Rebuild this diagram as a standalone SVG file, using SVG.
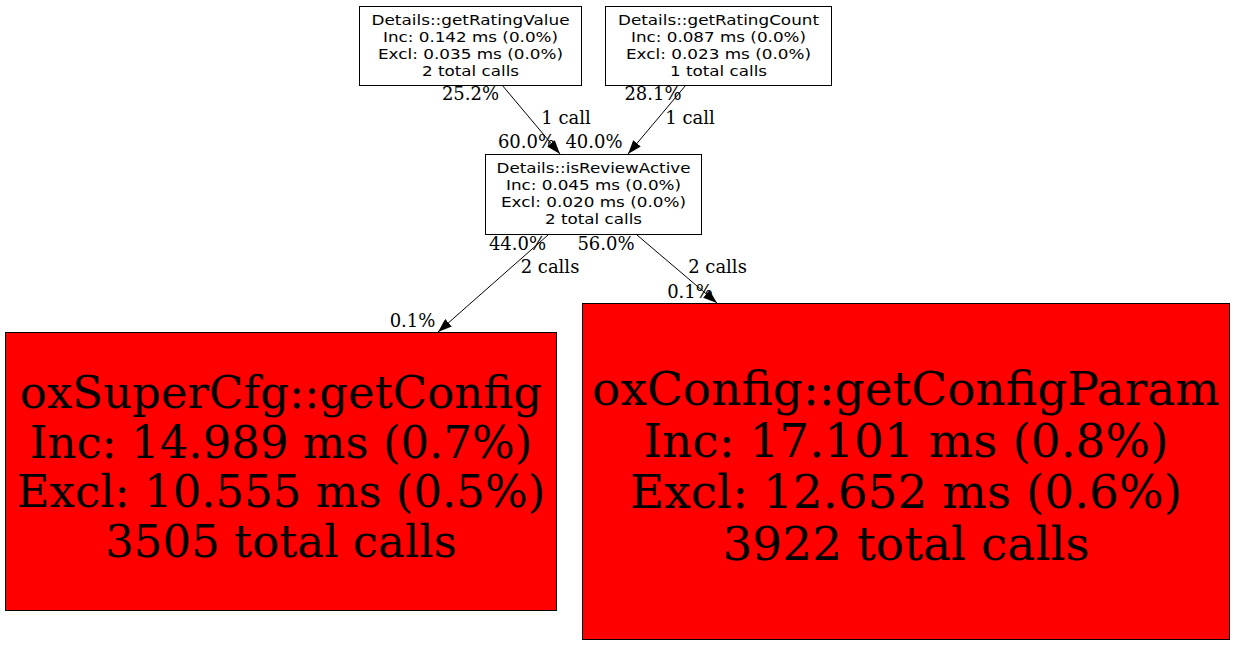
<svg xmlns="http://www.w3.org/2000/svg" width="1236" height="645" viewBox="0 0 1236 645">
<defs>
<style>
.bg{fill:#ffffff}
.box{fill:#ffffff;stroke:#000000;stroke-width:1}
.hot{fill:#ff0000;stroke:#000000;stroke-width:1}
.st{font-family:"DejaVu Sans",sans-serif;font-size:14.5px;fill:#000000;text-anchor:middle}
.bt{font-family:"DejaVu Serif",serif;font-size:45px;fill:#000000;text-anchor:middle}
.bt2{font-family:"DejaVu Serif",serif;font-size:47px;fill:#000000;text-anchor:middle}
.el{font-family:"DejaVu Serif",serif;font-size:18px;fill:#000000;text-anchor:middle}
.edge{stroke:#000000;stroke-width:1;fill:none}
</style>
<marker id="arrow" viewBox="0 0 10 7" refX="10" refY="3.5" markerWidth="14" markerHeight="10" markerUnits="userSpaceOnUse" orient="auto">
<path d="M0,0 L10,3.5 L0,7 z" fill="#000000"/>
</marker>
</defs>
<rect class="bg" x="0" y="0" width="1236" height="645"/>
<g id="connectors">
<line class="edge" x1="502" y1="85" x2="560" y2="154" marker-end="url(#arrow)"/>
<line class="edge" x1="686" y1="85" x2="628" y2="154" marker-end="url(#arrow)"/>
<line class="edge" x1="548" y1="235" x2="438" y2="332" marker-end="url(#arrow)"/>
<line class="edge" x1="637" y1="235" x2="717" y2="303" marker-end="url(#arrow)"/>
<text class="el" x="470.5" y="100">25.2%</text>
<text class="el" x="566" y="124">1 call</text>
<text class="el" x="526.5" y="148">60.0%</text>
<text class="el" x="594" y="148">40.0%</text>
<text class="el" x="653" y="100">28.1%</text>
<text class="el" x="690" y="124">1 call</text>
<text class="el" x="517.5" y="250">44.0%</text>
<text class="el" x="606" y="250">56.0%</text>
<text class="el" x="550" y="273">2 calls</text>
<text class="el" x="717.5" y="273">2 calls</text>
<text class="el" x="412.5" y="327">0.1%</text>
<text class="el" x="690" y="298">0.1%</text>
</g>
<g id="node-getRatingValue">
<rect class="box" x="359.5" y="6.5" width="222" height="79"/>
<text class="st" x="470.5" y="24.5" textLength="198" lengthAdjust="spacingAndGlyphs">Details::getRatingValue</text>
<text class="st" x="470.5" y="41.5" textLength="175" lengthAdjust="spacingAndGlyphs">Inc: 0.142 ms (0.0%)</text>
<text class="st" x="470.5" y="58.5" textLength="185" lengthAdjust="spacingAndGlyphs">Excl: 0.035 ms (0.0%)</text>
<text class="st" x="470.5" y="75.5" textLength="97" lengthAdjust="spacingAndGlyphs">2 total calls</text>
</g>
<g id="node-getRatingCount">
<rect class="box" x="605.5" y="6.5" width="226" height="79"/>
<text class="st" x="718.5" y="24.5" textLength="201" lengthAdjust="spacingAndGlyphs">Details::getRatingCount</text>
<text class="st" x="718.5" y="41.5" textLength="175" lengthAdjust="spacingAndGlyphs">Inc: 0.087 ms (0.0%)</text>
<text class="st" x="718.5" y="58.5" textLength="185" lengthAdjust="spacingAndGlyphs">Excl: 0.023 ms (0.0%)</text>
<text class="st" x="718.5" y="75.5" textLength="97" lengthAdjust="spacingAndGlyphs">1 total calls</text>
</g>
<g id="node-isReviewActive">
<rect class="box" x="485.5" y="154.5" width="216" height="80"/>
<text class="st" x="593.5" y="173" textLength="194" lengthAdjust="spacingAndGlyphs">Details::isReviewActive</text>
<text class="st" x="593.5" y="190" textLength="175" lengthAdjust="spacingAndGlyphs">Inc: 0.045 ms (0.0%)</text>
<text class="st" x="593.5" y="207" textLength="185" lengthAdjust="spacingAndGlyphs">Excl: 0.020 ms (0.0%)</text>
<text class="st" x="593.5" y="224" textLength="97" lengthAdjust="spacingAndGlyphs">2 total calls</text>
</g>
<g id="node-getConfig">
<rect class="hot" x="5.5" y="332.5" width="551" height="278"/>
<text class="bt" x="281" y="408">oxSuperCfg::getConfig</text>
<text class="bt" x="281" y="457.5">Inc: 14.989 ms (0.7%)</text>
<text class="bt" x="281" y="507">Excl: 10.555 ms (0.5%)</text>
<text class="bt" x="281" y="556.5">3505 total calls</text>
</g>
<g id="node-getConfigParam">
<rect class="hot" x="582.5" y="303.5" width="647" height="336"/>
<text class="bt2" x="906" y="405">oxConfig::getConfigParam</text>
<text class="bt2" x="906" y="456.7">Inc: 17.101 ms (0.8%)</text>
<text class="bt2" x="906" y="508.3">Excl: 12.652 ms (0.6%)</text>
<text class="bt2" x="906" y="560">3922 total calls</text>
</g>
</svg>
